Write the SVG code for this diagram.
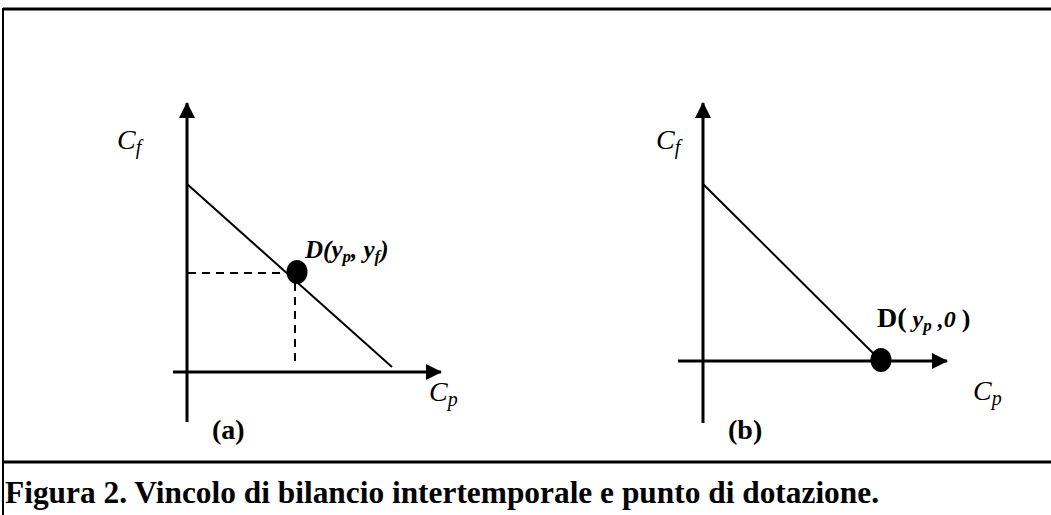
<svg xmlns="http://www.w3.org/2000/svg" width="1051" height="515" viewBox="0 0 1051 515">
  <style>
    .axis { stroke: #000; stroke-width: 3; fill: none; }
    .line { stroke: #000; stroke-width: 2; fill: none; }
    .dash { stroke: #000; stroke-width: 2; fill: none; stroke-dasharray: 8 6; }
    .frame { stroke: #000; fill: none; }
    text { font-family: "Liberation Serif", "Times New Roman", Times, serif; fill: #000; }
    .var { font-style: italic; font-size: 28px; }
    .sub { font-size: 20px; }
    .lab { font-weight: bold; font-size: 28px; }
    .cap { font-weight: bold; font-size: 31px; }
  </style>
  <defs>
    <marker id="arrow" viewBox="0 0 16 16" refX="15" refY="8" markerWidth="16" markerHeight="16" markerUnits="userSpaceOnUse" orient="auto">
      <path d="M0,0 L16,8 L0,16 Z" fill="#000"/>
    </marker>
  </defs>
  <rect width="1051" height="515" fill="#fff"/>
  <g id="frame">
    <line class="frame" x1="3" y1="9" x2="1051" y2="9" stroke-width="3"/>
    <line class="frame" x1="3" y1="8" x2="3" y2="515" stroke-width="2"/>
    <line class="frame" x1="3" y1="462" x2="1051" y2="462" stroke-width="3"/>
  </g>
  <g id="connectors">
    <line class="axis" x1="187" y1="422" x2="187" y2="103" marker-end="url(#arrow)"/>
    <line class="axis" x1="173" y1="372" x2="441" y2="372" marker-end="url(#arrow)"/>
    <line class="line" x1="187" y1="184" x2="392" y2="367"/>
    <line class="dash" x1="188" y1="273" x2="292" y2="273"/>
    <line class="dash" x1="295" y1="283" x2="295" y2="364"/>
    <line class="axis" x1="703" y1="423" x2="703" y2="103" marker-end="url(#arrow)"/>
    <line class="axis" x1="678" y1="361" x2="947" y2="361" marker-end="url(#arrow)"/>
    <line class="line" x1="703" y1="184" x2="880" y2="360"/>
  </g>
  <g id="point-a">
    <ellipse cx="297" cy="272" rx="10.5" ry="12" fill="#000"/>
    <text x="305" y="258" font-weight="bold" font-style="italic" font-size="25">D(y<tspan font-size="17" dy="4">p</tspan><tspan dy="-4">, y</tspan><tspan font-size="17" dy="4">f</tspan><tspan dy="-4">)</tspan></text>
  </g>
  <g id="point-b">
    <ellipse cx="881" cy="360" rx="10.5" ry="12" fill="#000"/>
    <text x="877" y="327" font-size="24"><tspan font-weight="bold" font-size="28">D(</tspan><tspan font-style="italic" font-weight="bold"> y</tspan><tspan font-style="italic" font-weight="bold" font-size="17" dy="4">p</tspan><tspan font-style="italic" font-weight="bold" dy="-4"> ,0 </tspan><tspan font-weight="bold" font-size="26">)</tspan></text>
  </g>
  <g id="labels-a">
    <text class="var" x="117" y="149">C<tspan class="sub" dy="5">f</tspan></text>
    <text class="var" x="429" y="401">C<tspan class="sub" dy="5">p</tspan></text>
    <text class="lab" x="212" y="439">(a)</text>
  </g>
  <g id="labels-b">
    <text class="var" x="656" y="149">C<tspan class="sub" dy="5">f</tspan></text>
    <text class="var" x="973" y="400">C<tspan class="sub" dy="5">p</tspan></text>
    <text class="lab" x="728" y="439">(b)</text>
  </g>
  <g id="caption">
    <text class="cap" x="5" y="503" textLength="874" lengthAdjust="spacingAndGlyphs">Figura 2. Vincolo di bilancio intertemporale e punto di dotazione.</text>
  </g>
</svg>
